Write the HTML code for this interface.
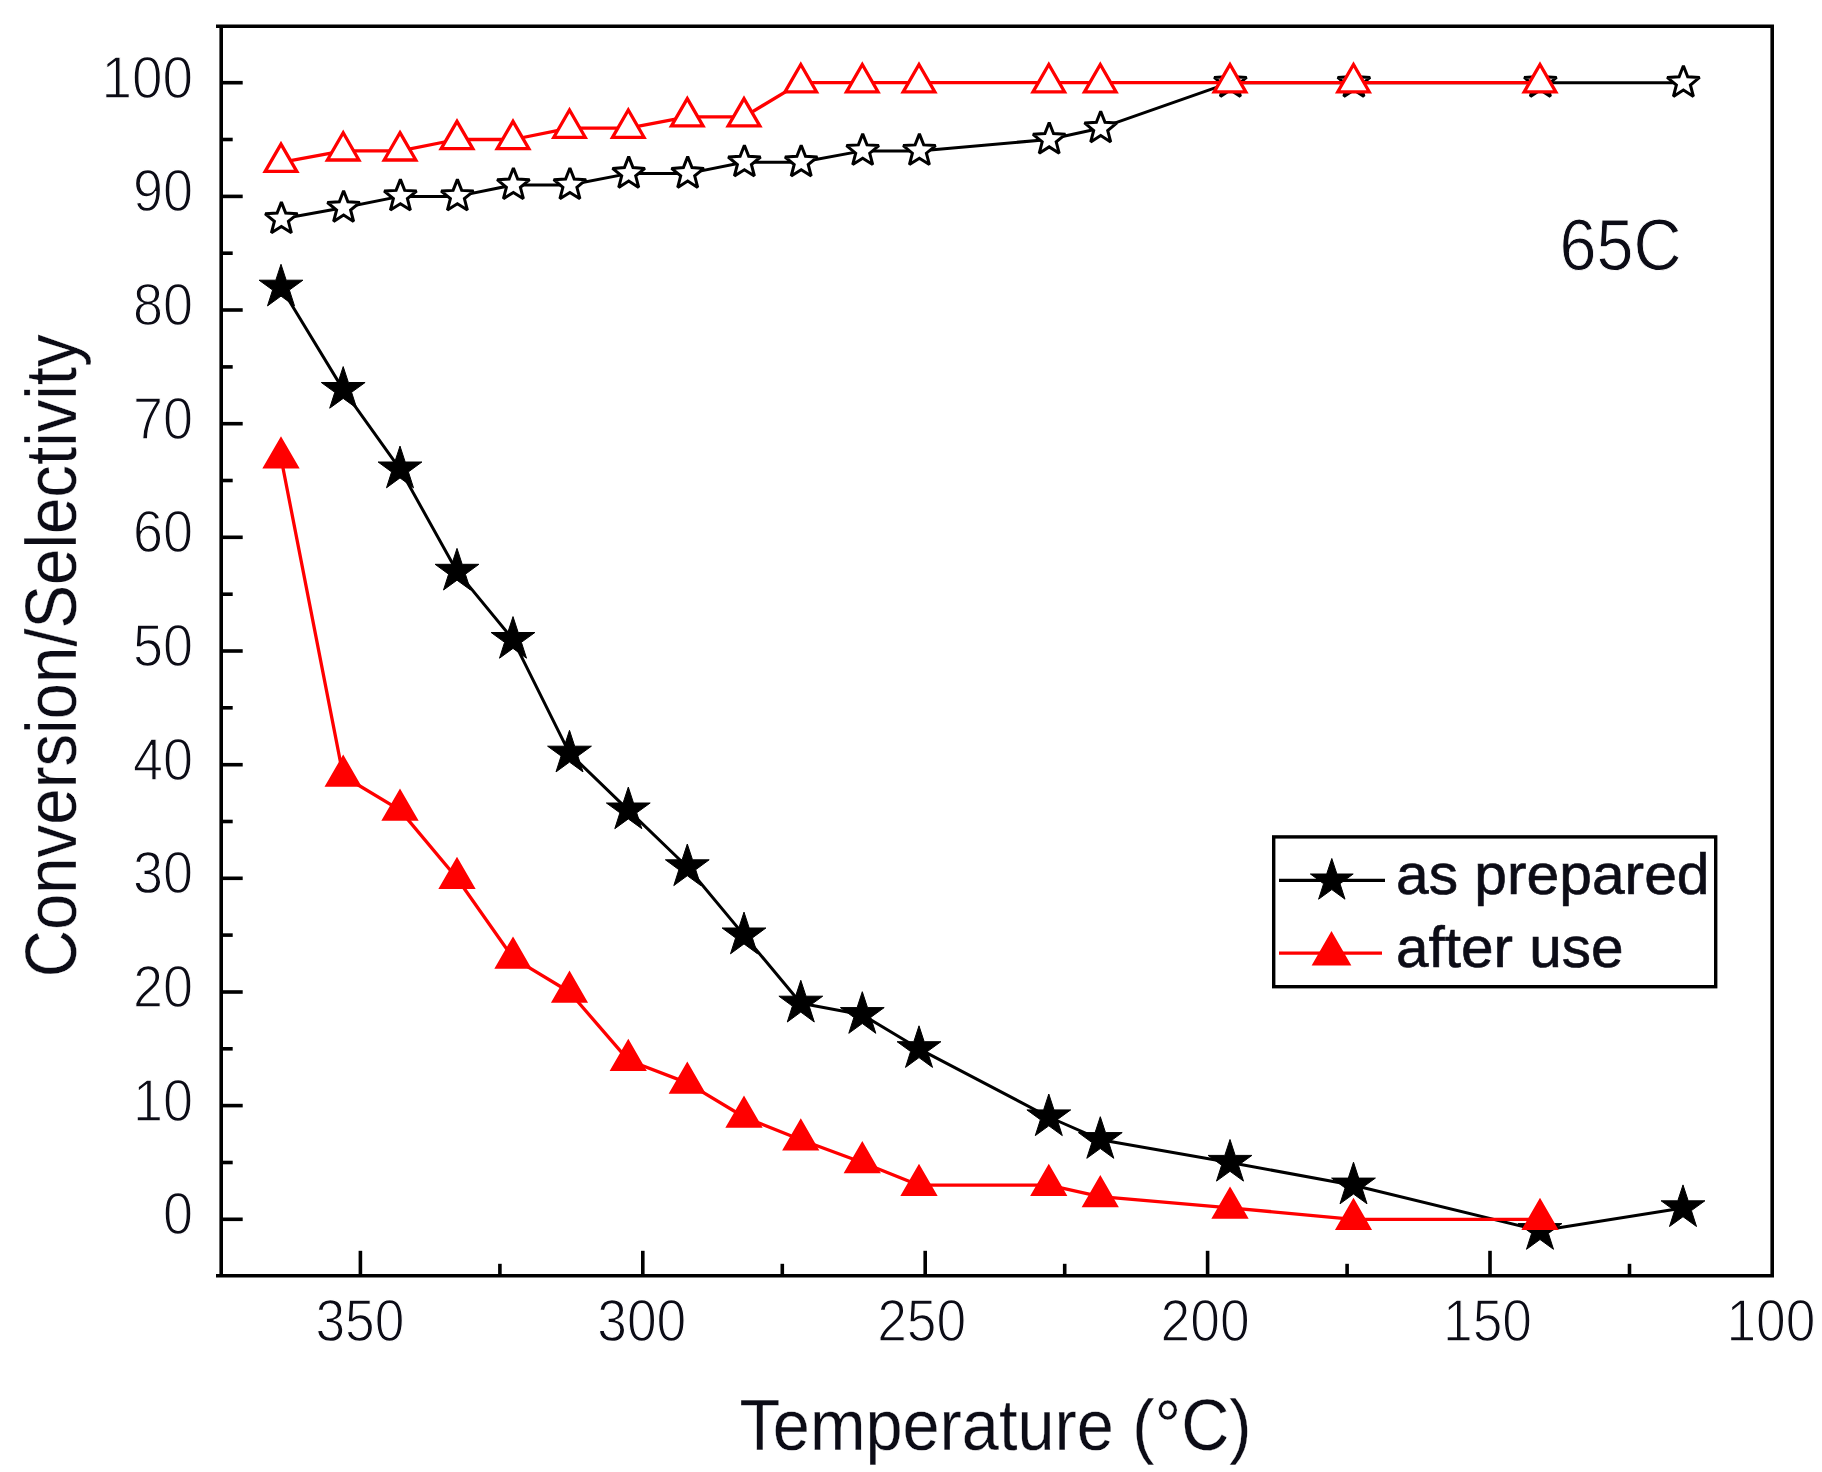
<!DOCTYPE html><html><head><meta charset="utf-8"><title>Conversion/Selectivity vs Temperature</title>
<style>html,body{margin:0;padding:0;background:#fff}svg{display:block}text{font-family:"Liberation Sans",Arial,sans-serif;fill:#0c0c16}.thin{stroke:#fff;stroke-width:1.3px}.thin2{stroke:#fff;stroke-width:0.3px}.thin3{stroke:#fff;stroke-width:0.9px}</style></head><body>
<svg width="1822" height="1472" viewBox="0 0 1822 1472">
<rect width="1822" height="1472" fill="#fff"/>
<g fill="none" stroke-linejoin="round">
<polyline points="281.0,219.1 343.2,207.7 400.0,196.4 457.0,196.4 513.0,185.0 569.5,185.0 628.3,173.6 687.3,173.6 744.0,162.3 800.8,162.3 862.3,150.9 919.0,150.9 1048.8,139.5 1100.3,128.2 1230.0,82.7 1353.5,82.7 1540.0,82.7 1683.0,82.7" stroke="#000" stroke-width="3"/>
<polygon points="281.4,202.1 285.7,213.1 297.6,213.8 288.4,221.4 291.4,232.8 281.4,226.5 271.4,232.8 274.4,221.4 265.2,213.8 277.1,213.1" fill="#fff" stroke="#000" stroke-width="3" stroke-linejoin="miter" stroke-miterlimit="2"/>
<polygon points="343.6,190.7 347.9,201.7 359.8,202.5 350.6,210.0 353.6,221.5 343.6,215.1 333.6,221.5 336.6,210.0 327.4,202.5 339.3,201.7" fill="#fff" stroke="#000" stroke-width="3" stroke-linejoin="miter" stroke-miterlimit="2"/>
<polygon points="400.4,179.4 404.7,190.4 416.6,191.1 407.4,198.6 410.4,210.1 400.4,203.8 390.4,210.1 393.4,198.6 384.2,191.1 396.1,190.4" fill="#fff" stroke="#000" stroke-width="3" stroke-linejoin="miter" stroke-miterlimit="2"/>
<polygon points="457.4,179.4 461.7,190.4 473.6,191.1 464.4,198.6 467.4,210.1 457.4,203.8 447.4,210.1 450.4,198.6 441.2,191.1 453.1,190.4" fill="#fff" stroke="#000" stroke-width="3" stroke-linejoin="miter" stroke-miterlimit="2"/>
<polygon points="513.4,168.0 517.7,179.0 529.6,179.7 520.4,187.3 523.4,198.7 513.4,192.4 503.4,198.7 506.4,187.3 497.2,179.7 509.1,179.0" fill="#fff" stroke="#000" stroke-width="3" stroke-linejoin="miter" stroke-miterlimit="2"/>
<polygon points="569.9,168.0 574.2,179.0 586.1,179.7 576.9,187.3 579.9,198.7 569.9,192.4 559.9,198.7 562.9,187.3 553.7,179.7 565.6,179.0" fill="#fff" stroke="#000" stroke-width="3" stroke-linejoin="miter" stroke-miterlimit="2"/>
<polygon points="628.7,156.6 633.0,167.6 644.9,168.4 635.7,175.9 638.7,187.4 628.7,181.0 618.7,187.4 621.7,175.9 612.5,168.4 624.4,167.6" fill="#fff" stroke="#000" stroke-width="3" stroke-linejoin="miter" stroke-miterlimit="2"/>
<polygon points="687.7,156.6 692.0,167.6 703.9,168.4 694.7,175.9 697.7,187.4 687.7,181.0 677.7,187.4 680.7,175.9 671.5,168.4 683.4,167.6" fill="#fff" stroke="#000" stroke-width="3" stroke-linejoin="miter" stroke-miterlimit="2"/>
<polygon points="744.4,145.3 748.7,156.3 760.6,157.0 751.4,164.5 754.4,176.0 744.4,169.7 734.4,176.0 737.4,164.5 728.2,157.0 740.1,156.3" fill="#fff" stroke="#000" stroke-width="3" stroke-linejoin="miter" stroke-miterlimit="2"/>
<polygon points="801.2,145.3 805.5,156.3 817.4,157.0 808.2,164.5 811.2,176.0 801.2,169.7 791.2,176.0 794.2,164.5 785.0,157.0 796.9,156.3" fill="#fff" stroke="#000" stroke-width="3" stroke-linejoin="miter" stroke-miterlimit="2"/>
<polygon points="862.7,133.9 867.0,144.9 878.9,145.6 869.7,153.2 872.7,164.6 862.7,158.3 852.7,164.6 855.7,153.2 846.5,145.6 858.4,144.9" fill="#fff" stroke="#000" stroke-width="3" stroke-linejoin="miter" stroke-miterlimit="2"/>
<polygon points="919.4,133.9 923.7,144.9 935.6,145.6 926.4,153.2 929.4,164.6 919.4,158.3 909.4,164.6 912.4,153.2 903.2,145.6 915.1,144.9" fill="#fff" stroke="#000" stroke-width="3" stroke-linejoin="miter" stroke-miterlimit="2"/>
<polygon points="1049.2,122.5 1053.5,133.5 1065.4,134.3 1056.2,141.8 1059.2,153.3 1049.2,146.9 1039.2,153.3 1042.2,141.8 1033.0,134.3 1044.9,133.5" fill="#fff" stroke="#000" stroke-width="3" stroke-linejoin="miter" stroke-miterlimit="2"/>
<polygon points="1100.7,111.2 1105.0,122.2 1116.9,122.9 1107.7,130.5 1110.7,141.9 1100.7,135.6 1090.7,141.9 1093.7,130.5 1084.5,122.9 1096.4,122.2" fill="#fff" stroke="#000" stroke-width="3" stroke-linejoin="miter" stroke-miterlimit="2"/>
<polygon points="1230.4,65.7 1234.7,76.7 1246.6,77.4 1237.4,85.0 1240.4,96.5 1230.4,90.1 1220.4,96.5 1223.4,85.0 1214.2,77.4 1226.1,76.7" fill="#fff" stroke="#000" stroke-width="3" stroke-linejoin="miter" stroke-miterlimit="2"/>
<polygon points="1353.9,65.7 1358.2,76.7 1370.1,77.4 1360.9,85.0 1363.9,96.5 1353.9,90.1 1343.9,96.5 1346.9,85.0 1337.7,77.4 1349.6,76.7" fill="#fff" stroke="#000" stroke-width="3" stroke-linejoin="miter" stroke-miterlimit="2"/>
<polygon points="1540.4,65.7 1544.7,76.7 1556.6,77.4 1547.4,85.0 1550.4,96.5 1540.4,90.1 1530.4,96.5 1533.4,85.0 1524.2,77.4 1536.1,76.7" fill="#fff" stroke="#000" stroke-width="3" stroke-linejoin="miter" stroke-miterlimit="2"/>
<polygon points="1683.4,65.7 1687.7,76.7 1699.6,77.4 1690.4,85.0 1693.4,96.5 1683.4,90.1 1673.4,96.5 1676.4,85.0 1667.2,77.4 1679.1,76.7" fill="#fff" stroke="#000" stroke-width="3" stroke-linejoin="miter" stroke-miterlimit="2"/>
<polyline points="281.0,162.3 343.2,150.9 400.0,150.9 457.0,139.5 513.0,139.5 569.5,128.2 628.3,128.2 687.3,116.8 744.0,116.8 800.8,82.7 862.3,82.7 919.0,82.7 1048.8,82.7 1100.3,82.7 1230.0,82.7 1353.5,82.7 1540.0,82.7" stroke="#f00" stroke-width="3.3"/>
<polygon points="281.0,144.1 296.8,171.4 265.2,171.4" fill="#fff" stroke="#f00" stroke-width="3.3" stroke-linejoin="miter"/>
<polygon points="343.2,132.7 358.9,160.0 327.4,160.0" fill="#fff" stroke="#f00" stroke-width="3.3" stroke-linejoin="miter"/>
<polygon points="400.0,132.7 415.8,160.0 384.2,160.0" fill="#fff" stroke="#f00" stroke-width="3.3" stroke-linejoin="miter"/>
<polygon points="457.0,121.3 472.8,148.6 441.2,148.6" fill="#fff" stroke="#f00" stroke-width="3.3" stroke-linejoin="miter"/>
<polygon points="513.0,121.3 528.8,148.6 497.2,148.6" fill="#fff" stroke="#f00" stroke-width="3.3" stroke-linejoin="miter"/>
<polygon points="569.5,110.0 585.2,137.3 553.8,137.3" fill="#fff" stroke="#f00" stroke-width="3.3" stroke-linejoin="miter"/>
<polygon points="628.3,110.0 644.0,137.3 612.5,137.3" fill="#fff" stroke="#f00" stroke-width="3.3" stroke-linejoin="miter"/>
<polygon points="687.3,98.6 703.0,125.9 671.5,125.9" fill="#fff" stroke="#f00" stroke-width="3.3" stroke-linejoin="miter"/>
<polygon points="744.0,98.6 759.8,125.9 728.2,125.9" fill="#fff" stroke="#f00" stroke-width="3.3" stroke-linejoin="miter"/>
<polygon points="800.8,64.5 816.5,91.8 785.0,91.8" fill="#fff" stroke="#f00" stroke-width="3.3" stroke-linejoin="miter"/>
<polygon points="862.3,64.5 878.0,91.8 846.5,91.8" fill="#fff" stroke="#f00" stroke-width="3.3" stroke-linejoin="miter"/>
<polygon points="919.0,64.5 934.8,91.8 903.2,91.8" fill="#fff" stroke="#f00" stroke-width="3.3" stroke-linejoin="miter"/>
<polygon points="1048.8,64.5 1064.5,91.8 1033.0,91.8" fill="#fff" stroke="#f00" stroke-width="3.3" stroke-linejoin="miter"/>
<polygon points="1100.3,64.5 1116.0,91.8 1084.5,91.8" fill="#fff" stroke="#f00" stroke-width="3.3" stroke-linejoin="miter"/>
<polygon points="1230.0,64.5 1245.8,91.8 1214.2,91.8" fill="#fff" stroke="#f00" stroke-width="3.3" stroke-linejoin="miter"/>
<polygon points="1353.5,64.5 1369.2,91.8 1337.8,91.8" fill="#fff" stroke="#f00" stroke-width="3.3" stroke-linejoin="miter"/>
<polygon points="1540.0,64.5 1555.8,91.8 1524.2,91.8" fill="#fff" stroke="#f00" stroke-width="3.3" stroke-linejoin="miter"/>
<polyline points="281.0,287.3 343.2,389.6 400.0,469.1 457.0,571.4 513.0,639.6 569.5,753.3 628.3,810.1 687.3,867.0 744.0,935.1 800.8,1003.3 862.3,1014.7 919.0,1048.8 1048.8,1117.0 1100.3,1139.7 1230.0,1162.5 1353.5,1185.2 1540.0,1230.7 1683.0,1207.9" stroke="#000" stroke-width="3"/>
<polygon points="281.0,264.3 286.2,280.2 302.9,280.2 289.4,290.0 294.5,305.9 281.0,296.1 267.5,305.9 272.6,290.0 259.1,280.2 275.8,280.2" fill="#000" stroke="#000" stroke-width="1" stroke-linejoin="miter"/>
<polygon points="343.2,366.6 348.4,382.5 365.1,382.5 351.6,392.3 356.7,408.2 343.2,398.4 329.7,408.2 334.8,392.3 321.3,382.5 338.0,382.5" fill="#000" stroke="#000" stroke-width="1" stroke-linejoin="miter"/>
<polygon points="400.0,446.1 405.2,462.0 421.9,462.0 408.4,471.9 413.5,487.8 400.0,477.9 386.5,487.8 391.6,471.9 378.1,462.0 394.8,462.0" fill="#000" stroke="#000" stroke-width="1" stroke-linejoin="miter"/>
<polygon points="457.0,548.4 462.2,564.3 478.9,564.3 465.4,574.2 470.5,590.0 457.0,580.2 443.5,590.0 448.6,574.2 435.1,564.3 451.8,564.3" fill="#000" stroke="#000" stroke-width="1" stroke-linejoin="miter"/>
<polygon points="513.0,616.6 518.2,632.5 534.9,632.5 521.4,642.3 526.5,658.2 513.0,648.4 499.5,658.2 504.6,642.3 491.1,632.5 507.8,632.5" fill="#000" stroke="#000" stroke-width="1" stroke-linejoin="miter"/>
<polygon points="569.5,730.3 574.7,746.2 591.4,746.2 577.9,756.0 583.0,771.9 569.5,762.1 556.0,771.9 561.1,756.0 547.6,746.2 564.3,746.2" fill="#000" stroke="#000" stroke-width="1" stroke-linejoin="miter"/>
<polygon points="628.3,787.1 633.5,803.0 650.2,803.0 636.7,812.8 641.8,828.7 628.3,818.9 614.8,828.7 619.9,812.8 606.4,803.0 623.1,803.0" fill="#000" stroke="#000" stroke-width="1" stroke-linejoin="miter"/>
<polygon points="687.3,844.0 692.5,859.8 709.2,859.8 695.7,869.7 700.8,885.6 687.3,875.7 673.8,885.6 678.9,869.7 665.4,859.8 682.1,859.8" fill="#000" stroke="#000" stroke-width="1" stroke-linejoin="miter"/>
<polygon points="744.0,912.1 749.2,928.0 765.9,928.0 752.4,937.9 757.5,953.8 744.0,943.9 730.5,953.8 735.6,937.9 722.1,928.0 738.8,928.0" fill="#000" stroke="#000" stroke-width="1" stroke-linejoin="miter"/>
<polygon points="800.8,980.3 806.0,996.2 822.7,996.2 809.2,1006.1 814.3,1022.0 800.8,1012.1 787.3,1022.0 792.4,1006.1 778.9,996.2 795.6,996.2" fill="#000" stroke="#000" stroke-width="1" stroke-linejoin="miter"/>
<polygon points="862.3,991.7 867.5,1007.6 884.2,1007.6 870.7,1017.4 875.8,1033.3 862.3,1023.5 848.8,1033.3 853.9,1017.4 840.4,1007.6 857.1,1007.6" fill="#000" stroke="#000" stroke-width="1" stroke-linejoin="miter"/>
<polygon points="919.0,1025.8 924.2,1041.7 940.9,1041.7 927.4,1051.5 932.5,1067.4 919.0,1057.6 905.5,1067.4 910.6,1051.5 897.1,1041.7 913.8,1041.7" fill="#000" stroke="#000" stroke-width="1" stroke-linejoin="miter"/>
<polygon points="1048.8,1094.0 1054.0,1109.9 1070.7,1109.9 1057.2,1119.7 1062.3,1135.6 1048.8,1125.8 1035.3,1135.6 1040.4,1119.7 1026.9,1109.9 1043.6,1109.9" fill="#000" stroke="#000" stroke-width="1" stroke-linejoin="miter"/>
<polygon points="1100.3,1116.7 1105.5,1132.6 1122.2,1132.6 1108.7,1142.5 1113.8,1158.3 1100.3,1148.5 1086.8,1158.3 1091.9,1142.5 1078.4,1132.6 1095.1,1132.6" fill="#000" stroke="#000" stroke-width="1" stroke-linejoin="miter"/>
<polygon points="1230.0,1139.5 1235.2,1155.4 1251.9,1155.4 1238.4,1165.2 1243.5,1181.1 1230.0,1171.3 1216.5,1181.1 1221.6,1165.2 1208.1,1155.4 1224.8,1155.4" fill="#000" stroke="#000" stroke-width="1" stroke-linejoin="miter"/>
<polygon points="1353.5,1162.2 1358.7,1178.1 1375.4,1178.1 1361.9,1187.9 1367.0,1203.8 1353.5,1194.0 1340.0,1203.8 1345.1,1187.9 1331.6,1178.1 1348.3,1178.1" fill="#000" stroke="#000" stroke-width="1" stroke-linejoin="miter"/>
<polygon points="1540.0,1207.7 1545.2,1223.6 1561.9,1223.6 1548.4,1233.4 1553.5,1249.3 1540.0,1239.5 1526.5,1249.3 1531.6,1233.4 1518.1,1223.6 1534.8,1223.6" fill="#000" stroke="#000" stroke-width="1" stroke-linejoin="miter"/>
<polygon points="1683.0,1184.9 1688.2,1200.8 1704.9,1200.8 1691.4,1210.6 1696.5,1226.5 1683.0,1216.7 1669.5,1226.5 1674.6,1210.6 1661.1,1200.8 1677.8,1200.8" fill="#000" stroke="#000" stroke-width="1" stroke-linejoin="miter"/>
<polyline points="281.0,457.8 343.2,776.0 400.0,810.1 457.0,878.3 513.0,957.9 569.5,992.0 628.3,1060.2 687.3,1082.9 744.0,1117.0 800.8,1139.7 862.3,1162.5 919.0,1185.2 1048.8,1185.2 1100.3,1196.6 1230.0,1207.9 1353.5,1219.3 1540.0,1219.3" stroke="#f00" stroke-width="3.3"/>
<polygon points="281.0,439.6 296.8,466.9 265.2,466.9" fill="#f00" stroke="#f00" stroke-width="3.3" stroke-linejoin="miter"/>
<polygon points="343.2,757.8 358.9,785.1 327.4,785.1" fill="#f00" stroke="#f00" stroke-width="3.3" stroke-linejoin="miter"/>
<polygon points="400.0,791.9 415.8,819.2 384.2,819.2" fill="#f00" stroke="#f00" stroke-width="3.3" stroke-linejoin="miter"/>
<polygon points="457.0,860.1 472.8,887.4 441.2,887.4" fill="#f00" stroke="#f00" stroke-width="3.3" stroke-linejoin="miter"/>
<polygon points="513.0,939.7 528.8,967.0 497.2,967.0" fill="#f00" stroke="#f00" stroke-width="3.3" stroke-linejoin="miter"/>
<polygon points="569.5,973.8 585.2,1001.1 553.8,1001.1" fill="#f00" stroke="#f00" stroke-width="3.3" stroke-linejoin="miter"/>
<polygon points="628.3,1042.0 644.0,1069.3 612.5,1069.3" fill="#f00" stroke="#f00" stroke-width="3.3" stroke-linejoin="miter"/>
<polygon points="687.3,1064.7 703.0,1092.0 671.5,1092.0" fill="#f00" stroke="#f00" stroke-width="3.3" stroke-linejoin="miter"/>
<polygon points="744.0,1098.8 759.8,1126.1 728.2,1126.1" fill="#f00" stroke="#f00" stroke-width="3.3" stroke-linejoin="miter"/>
<polygon points="800.8,1121.6 816.5,1148.8 785.0,1148.8" fill="#f00" stroke="#f00" stroke-width="3.3" stroke-linejoin="miter"/>
<polygon points="862.3,1144.3 878.0,1171.6 846.5,1171.6" fill="#f00" stroke="#f00" stroke-width="3.3" stroke-linejoin="miter"/>
<polygon points="919.0,1167.0 934.8,1194.3 903.2,1194.3" fill="#f00" stroke="#f00" stroke-width="3.3" stroke-linejoin="miter"/>
<polygon points="1048.8,1167.0 1064.5,1194.3 1033.0,1194.3" fill="#f00" stroke="#f00" stroke-width="3.3" stroke-linejoin="miter"/>
<polygon points="1100.3,1178.4 1116.0,1205.7 1084.5,1205.7" fill="#f00" stroke="#f00" stroke-width="3.3" stroke-linejoin="miter"/>
<polygon points="1230.0,1189.7 1245.8,1217.0 1214.2,1217.0" fill="#f00" stroke="#f00" stroke-width="3.3" stroke-linejoin="miter"/>
<polygon points="1353.5,1201.1 1369.2,1228.4 1337.8,1228.4" fill="#f00" stroke="#f00" stroke-width="3.3" stroke-linejoin="miter"/>
<polygon points="1540.0,1201.1 1555.8,1228.4 1524.2,1228.4" fill="#f00" stroke="#f00" stroke-width="3.3" stroke-linejoin="miter"/>
</g>
<g stroke="#000" stroke-width="3.6" fill="none" stroke-linecap="butt">
<line x1="216" y1="26.2" x2="1774.0" y2="26.2"/>
<line x1="216" y1="1275.8" x2="1774.0" y2="1275.8"/>
<line x1="221.2" y1="26.2" x2="221.2" y2="1275.8"/>
<line x1="1772.2" y1="26.2" x2="1772.2" y2="1275.8"/>
<line x1="221.2" y1="1219.3" x2="242.7" y2="1219.3"/>
<line x1="221.2" y1="1162.5" x2="232.7" y2="1162.5"/>
<line x1="221.2" y1="1105.6" x2="242.7" y2="1105.6"/>
<line x1="221.2" y1="1048.8" x2="232.7" y2="1048.8"/>
<line x1="221.2" y1="992.0" x2="242.7" y2="992.0"/>
<line x1="221.2" y1="935.1" x2="232.7" y2="935.1"/>
<line x1="221.2" y1="878.3" x2="242.7" y2="878.3"/>
<line x1="221.2" y1="821.5" x2="232.7" y2="821.5"/>
<line x1="221.2" y1="764.7" x2="242.7" y2="764.7"/>
<line x1="221.2" y1="707.8" x2="232.7" y2="707.8"/>
<line x1="221.2" y1="651.0" x2="242.7" y2="651.0"/>
<line x1="221.2" y1="594.2" x2="232.7" y2="594.2"/>
<line x1="221.2" y1="537.3" x2="242.7" y2="537.3"/>
<line x1="221.2" y1="480.5" x2="232.7" y2="480.5"/>
<line x1="221.2" y1="423.7" x2="242.7" y2="423.7"/>
<line x1="221.2" y1="366.9" x2="232.7" y2="366.9"/>
<line x1="221.2" y1="310.0" x2="242.7" y2="310.0"/>
<line x1="221.2" y1="253.2" x2="232.7" y2="253.2"/>
<line x1="221.2" y1="196.4" x2="242.7" y2="196.4"/>
<line x1="221.2" y1="139.5" x2="232.7" y2="139.5"/>
<line x1="221.2" y1="82.7" x2="242.7" y2="82.7"/>
<line x1="1629.5" y1="1275.8" x2="1629.5" y2="1263.8"/>
<line x1="1490.0" y1="1275.8" x2="1490.0" y2="1250.8"/>
<line x1="1347.1" y1="1275.8" x2="1347.1" y2="1263.8"/>
<line x1="1207.6" y1="1275.8" x2="1207.6" y2="1250.8"/>
<line x1="1064.7" y1="1275.8" x2="1064.7" y2="1263.8"/>
<line x1="925.2" y1="1275.8" x2="925.2" y2="1250.8"/>
<line x1="782.3" y1="1275.8" x2="782.3" y2="1263.8"/>
<line x1="642.8" y1="1275.8" x2="642.8" y2="1250.8"/>
<line x1="499.9" y1="1275.8" x2="499.9" y2="1263.8"/>
<line x1="360.4" y1="1275.8" x2="360.4" y2="1250.8"/>
</g>
<g font-size="59" class="thin">
<text x="193" y="1234.3" text-anchor="end" textLength="30.0" lengthAdjust="spacingAndGlyphs">0</text>
<text x="193" y="1120.6" text-anchor="end" textLength="60.0" lengthAdjust="spacingAndGlyphs">10</text>
<text x="193" y="1007.0" text-anchor="end" textLength="60.0" lengthAdjust="spacingAndGlyphs">20</text>
<text x="193" y="893.3" text-anchor="end" textLength="60.0" lengthAdjust="spacingAndGlyphs">30</text>
<text x="193" y="779.7" text-anchor="end" textLength="60.0" lengthAdjust="spacingAndGlyphs">40</text>
<text x="193" y="666.0" text-anchor="end" textLength="60.0" lengthAdjust="spacingAndGlyphs">50</text>
<text x="193" y="552.3" text-anchor="end" textLength="60.0" lengthAdjust="spacingAndGlyphs">60</text>
<text x="193" y="438.7" text-anchor="end" textLength="60.0" lengthAdjust="spacingAndGlyphs">70</text>
<text x="193" y="325.0" text-anchor="end" textLength="60.0" lengthAdjust="spacingAndGlyphs">80</text>
<text x="193" y="211.4" text-anchor="end" textLength="60.0" lengthAdjust="spacingAndGlyphs">90</text>
<text x="193" y="97.7" text-anchor="end" textLength="91.5" lengthAdjust="spacingAndGlyphs">100</text>
<text x="1770.9" y="1341.3" text-anchor="middle" textLength="89" lengthAdjust="spacingAndGlyphs">100</text>
<text x="1487.5" y="1341.3" text-anchor="middle" textLength="89" lengthAdjust="spacingAndGlyphs">150</text>
<text x="1205.1" y="1341.3" text-anchor="middle" textLength="89" lengthAdjust="spacingAndGlyphs">200</text>
<text x="921.7" y="1341.3" text-anchor="middle" textLength="89" lengthAdjust="spacingAndGlyphs">250</text>
<text x="641.8" y="1341.3" text-anchor="middle" textLength="89" lengthAdjust="spacingAndGlyphs">300</text>
<text x="359.9" y="1341.3" text-anchor="middle" textLength="89" lengthAdjust="spacingAndGlyphs">350</text>
</g>
<text x="739.5" y="1449.8" font-size="73" textLength="512" lengthAdjust="spacingAndGlyphs" class="thin2">Temperature (°C)</text>
<text transform="translate(76.2,977.3) rotate(-90)" font-size="73" textLength="643" lengthAdjust="spacingAndGlyphs" class="thin2">Conversion/Selectivity</text>
<text x="1559.5" y="269.8" font-size="73" textLength="122" lengthAdjust="spacingAndGlyphs" class="thin3">65C</text>
<rect x="1273.7" y="836.9" width="442" height="149.8" fill="#fff" stroke="#000" stroke-width="3.4"/>
<line x1="1279" y1="880.3" x2="1385" y2="880.3" stroke="#000" stroke-width="3.3"/>
<polygon points="1331.8,858.5 1336.9,874.0 1353.2,874.0 1340.0,883.7 1345.0,899.2 1331.8,889.6 1318.6,899.2 1323.6,883.7 1310.4,874.0 1326.7,874.0" fill="#000" stroke="#000" stroke-width="1"/>
<line x1="1279" y1="953.2" x2="1382" y2="953.2" stroke="#f00" stroke-width="3.3"/>
<polygon points="1331.5,934.4 1348.5,963.8 1314.5,963.8" fill="#f00" stroke="#f00" stroke-width="3.3"/>
<text x="1396" y="893.7" font-size="57.8" textLength="313.5" lengthAdjust="spacingAndGlyphs" stroke="#0c0c16" stroke-width="0.6">as prepared</text>
<text x="1396" y="967" font-size="57.8" textLength="227.5" lengthAdjust="spacingAndGlyphs" stroke="#0c0c16" stroke-width="0.6">after use</text>
</svg></body></html>
